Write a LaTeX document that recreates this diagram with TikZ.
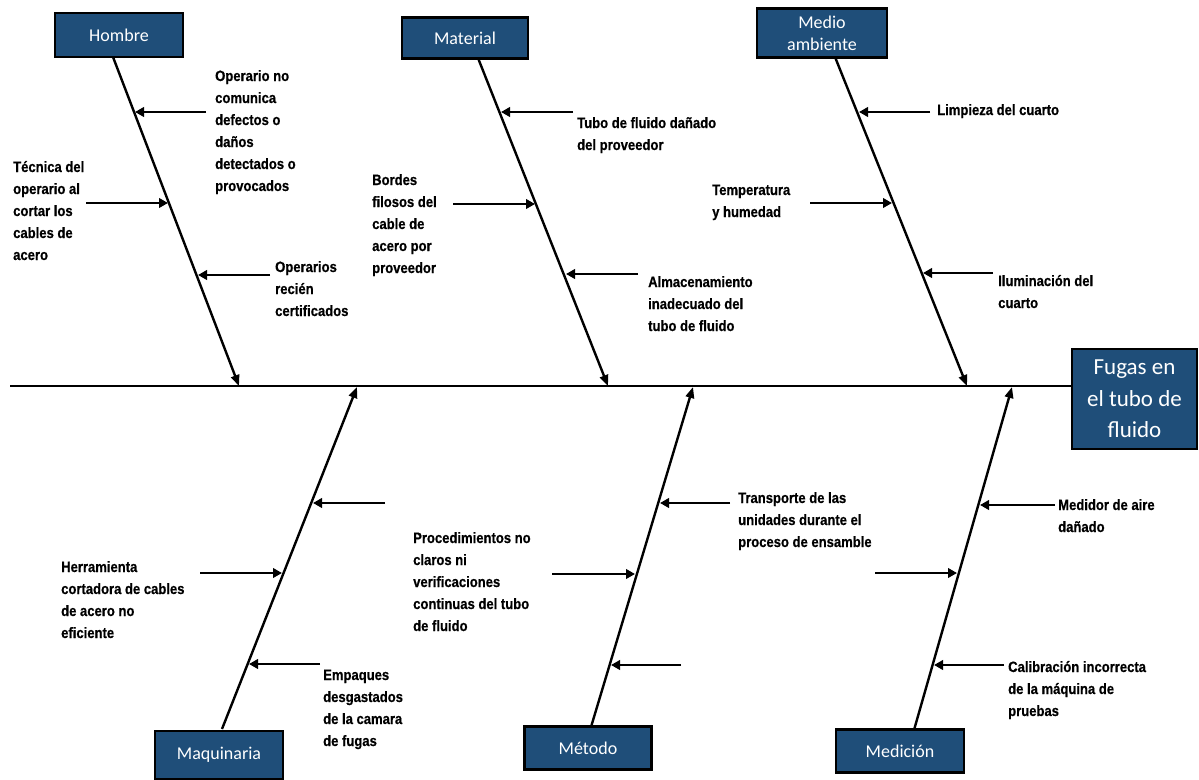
\documentclass[tikz,border=0pt]{standalone}
\usepackage{fontspec}
\usetikzlibrary{arrows.meta}
\newfontfamily\lblfont[FakeStretch=0.87,FakeBold=0.6]{Liberation Sans}
\newfontfamily\boxfont{Carlito}
\definecolor{boxblue}{RGB}{31,78,121}
\begin{document}
\begin{tikzpicture}[x=1pt,y=-1pt,
  cat/.style={draw=black, line width=2.8pt, fill=boxblue, text=white, align=center, inner sep=0pt,
    font=\boxfont\fontsize{18}{22}\selectfont},
  bone/.style={line width=2.4pt, -{Triangle[length=11pt,width=8.5pt]}},
  sub/.style={line width=2.9pt, -{Triangle[length=9pt,width=9.5pt]}},
  spine/.style={line width=2.8pt},
  lbl/.style={anchor=base west, inner sep=0pt, align=left,
    font=\lblfont\bfseries\fontsize{15}{22}\selectfont}]
\useasboundingbox (0,0) rectangle (1199,779);

% category boxes
\node[cat, minimum width=128pt, minimum height=44pt] (hombre) at (119,35) {Hombre};
\node[cat, minimum width=126pt, minimum height=41pt] (material) at (465,38) {Material};
\node[cat, minimum width=130pt, minimum height=49pt] (medio) at (822,33) {Medio\\ambiente};
\node[cat, minimum width=128pt, minimum height=48pt] (maq) at (219,755) {Maquinaria};
\node[cat, minimum width=127pt, minimum height=43pt] (metodo) at (588,748) {Método};
\node[cat, minimum width=128pt, minimum height=43pt] (medicion) at (900,751) {Medición};
\node[cat, minimum width=125pt, minimum height=100pt,
      font=\boxfont\fontsize{23}{31.5}\selectfont] (efecto) at (1134.5,399) {Fugas en\\el tubo de\\fluido};

% spine (multi-line labels below are placed by the baseline of their last line)
\coordinate (sL) at (10,386);
\draw[spine] (sL) -- (sL -| efecto.west);

% main bones
\coordinate (hT) at (113,57);  \coordinate (hB) at (239,386);
\coordinate (mT) at (478,58);  \coordinate (mB) at (608,386);
\coordinate (aT) at (835,57);  \coordinate (aB) at (967,386);
\coordinate (qB) at (222,729); \coordinate (qT) at (357,387);
\coordinate (tB) at (591,727); \coordinate (tT) at (693,387);
\coordinate (dB) at (914,730); \coordinate (dT) at (1012,387);
\draw[bone] (hT) -- (hB);
\draw[bone] (mT) -- (mB);
\draw[bone] (aT) -- (aB);
\draw[bone] (qB) -- (qT);
\draw[bone] (tB) -- (tT);
\draw[bone] (dB) -- (dT);

% Hombre causes
\coordinate (h1s) at (206,112); \coordinate (h1e) at (135,112);
\coordinate (h2s) at (86,203);  \coordinate (h2e) at (168,203);
\coordinate (h3s) at (270,275); \coordinate (h3e) at (198,275);
\draw[sub] (h1s) -- (h1e);
\draw[sub] (h2s) -- (h2e);
\draw[sub] (h3s) -- (h3e);
\node[lbl] (h1) at (215,191) {Operario no\\comunica\\defectos o\\daños\\detectados o\\provocados};
\node[lbl] (h2) at (13,260) {Técnica del\\operario al\\cortar los\\cables de\\acero};
\node[lbl] (h3) at (275,316) {Operarios\\recién\\certificados};

% Material causes
\coordinate (m1s) at (573,112); \coordinate (m1e) at (501,112);
\coordinate (m2s) at (453,204); \coordinate (m2e) at (535,204);
\coordinate (m3s) at (638,274); \coordinate (m3e) at (566,274);
\draw[sub] (m1s) -- (m1e);
\draw[sub] (m2s) -- (m2e);
\draw[sub] (m3s) -- (m3e);
\node[lbl] (m1) at (577,150) {Tubo de fluido dañado\\del proveedor};
\node[lbl] (m2) at (372,273) {Bordes\\filosos del\\cable de\\acero por\\proveedor};
\node[lbl] (m3) at (648,331) {Almacenamiento\\inadecuado del\\tubo de fluido};

% Medio ambiente causes
\coordinate (a1s) at (930,112); \coordinate (a1e) at (859,112);
\coordinate (a2s) at (810,203); \coordinate (a2e) at (892,203);
\coordinate (a3s) at (993,273); \coordinate (a3e) at (923,273);
\draw[sub] (a1s) -- (a1e);
\draw[sub] (a2s) -- (a2e);
\draw[sub] (a3s) -- (a3e);
\node[lbl] (a1) at (937,115) {Limpieza del cuarto};
\node[lbl] (a2) at (712,217) {Temperatura\\y humedad};
\node[lbl] (a3) at (998,308) {Iluminación del\\cuarto};

% Maquinaria causes
\coordinate (q1s) at (385,503); \coordinate (q1e) at (313,503);
\coordinate (q2s) at (200,573); \coordinate (q2e) at (282,573);
\coordinate (q3s) at (320,664); \coordinate (q3e) at (249,664);
\draw[sub] (q1s) -- (q1e);
\draw[sub] (q2s) -- (q2e);
\draw[sub] (q3s) -- (q3e);
\node[lbl] (q2) at (61,638) {Herramienta\\cortadora de cables\\de acero no\\eficiente};
\node[lbl] (q3) at (323,746) {Empaques\\desgastados\\de la camara\\de fugas};

% Método causes
\coordinate (t1s) at (730,503); \coordinate (t1e) at (660,503);
\coordinate (t2s) at (552,574); \coordinate (t2e) at (635,574);
\coordinate (t3s) at (681,665); \coordinate (t3e) at (611,665);
\draw[sub] (t1s) -- (t1e);
\draw[sub] (t2s) -- (t2e);
\draw[sub] (t3s) -- (t3e);
\node[lbl] (t1) at (738,547) {Transporte de las\\unidades durante el\\proceso de ensamble};
\node[lbl] (t2) at (413,631) {Procedimientos no\\claros ni\\verificaciones\\continuas del tubo\\de fluido};

% Medición causes
\coordinate (d1s) at (1055,505); \coordinate (d1e) at (980,505);
\coordinate (d2s) at (875,573);  \coordinate (d2e) at (957,573);
\coordinate (d3s) at (1004,665); \coordinate (d3e) at (934,665);
\draw[sub] (d1s) -- (d1e);
\draw[sub] (d2s) -- (d2e);
\draw[sub] (d3s) -- (d3e);
\node[lbl] (d1) at (1058,532) {Medidor de aire\\dañado};
\node[lbl] (d3) at (1008,716) {Calibración incorrecta\\de la máquina de\\pruebas};
\end{tikzpicture}
\end{document}
